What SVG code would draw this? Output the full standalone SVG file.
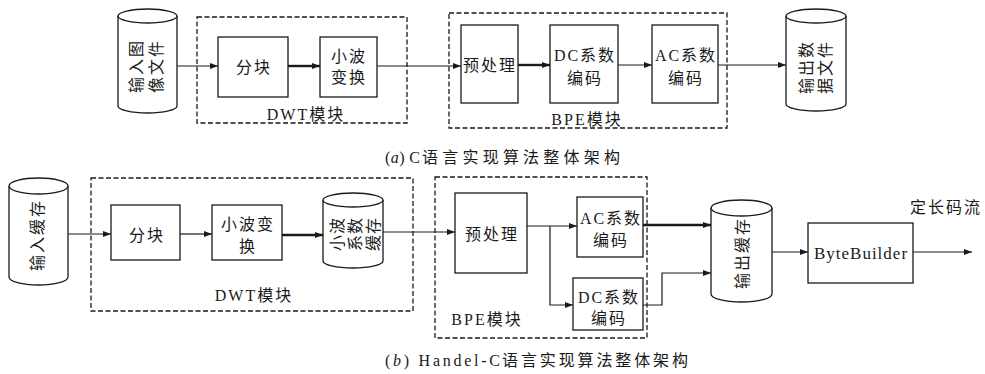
<svg xmlns="http://www.w3.org/2000/svg" width="985" height="374" viewBox="0 0 985 374">
<style>
  .bg { fill: #ffffff; }
  .box { fill: #ffffff; stroke: #1a1a1a; stroke-width: 1.3; }
  .cyl { fill: #ffffff; stroke: #1a1a1a; stroke-width: 1.3; }
  .dash { fill: none; stroke: #1a1a1a; stroke-width: 1.3; stroke-dasharray: 5 2.5; }
  .ln { fill: none; stroke: #1a1a1a; stroke-width: 1.2; marker-end: url(#arr); }
  .thick { fill: none; stroke: #1a1a1a; stroke-width: 2.4; marker-end: url(#arr); }
  .t { font-family: "Liberation Serif", "Noto Sans CJK SC", serif; font-size: 16px; fill: #1a1a1a; letter-spacing: 2px; text-anchor: middle; dominant-baseline: central; }
  .cap { font-family: "Liberation Serif", "Noto Sans CJK SC", serif; font-size: 16px; fill: #1a1a1a; }
</style>
<defs>
  <marker id="arr" markerUnits="userSpaceOnUse" markerWidth="8" markerHeight="6" refX="8" refY="3" orient="auto">
    <path d="M0,0 L8,3 L0,6 Z" fill="#1a1a1a"/>
  </marker>
</defs>
<rect class="bg" x="0" y="0" width="985" height="374"/>

<!-- (a) module frames -->
<g id="a-dwt-frame">
  <rect class="dash" x="197" y="17" width="210" height="106"/>
  <text class="t" x="306" y="114">DWT模块</text>
</g>
<g id="a-bpe-frame">
  <rect class="dash" x="449" y="13" width="278" height="115"/>
  <text class="t" x="587" y="119">BPE模块</text>
</g>

<!-- (b) module frames -->
<g id="b-dwt-frame">
  <rect class="dash" x="91" y="178" width="322" height="133"/>
  <text class="t" x="254" y="295">DWT模块</text>
</g>
<g id="b-bpe-frame">
  <rect class="dash" x="435" y="177" width="212" height="161"/>
  <text class="t" x="487" y="319">BPE模块</text>
</g>

<!-- connectors -->
<g id="connectors">
  <!-- (a) -->
  <line class="ln" x1="177" y1="66" x2="218" y2="66"/>
  <line class="thick" x1="288" y1="66" x2="320" y2="66"/>
  <line class="ln" x1="377" y1="66" x2="461" y2="66"/>
  <line class="thick" x1="518" y1="65" x2="550" y2="65"/>
  <line class="ln" x1="618" y1="65" x2="652" y2="65"/>
  <line class="ln" x1="718" y1="65" x2="786" y2="65"/>
  <!-- (b) -->
  <line class="ln" x1="68" y1="234" x2="111" y2="234"/>
  <line class="ln" x1="180" y1="234" x2="212" y2="234"/>
  <line class="thick" x1="282" y1="235" x2="323" y2="235"/>
  <line class="ln" x1="383" y1="232" x2="455" y2="232"/>
  <polyline class="ln" points="527,226 577,226"/>
  <polyline class="ln" points="550,226 550,305 573,305"/>
  <line class="thick" x1="643" y1="225" x2="711" y2="225"/>
  <polyline class="ln" points="643,305 662,305 662,273 711,273"/>
  <line class="ln" x1="772" y1="252" x2="808" y2="252"/>
  <line class="ln" x1="913" y1="252" x2="972" y2="252"/>
</g>

<!-- (a) nodes -->
<g id="a-input">
  <path class="cyl" d="M118,16 L118,106 A29.5,7 0 0 0 177,106 L177,16"/>
  <ellipse class="cyl" cx="147.5" cy="16" rx="29.5" ry="7"/>
  <text class="t" transform="translate(136,66) rotate(-90)" x="0" y="0">输入图</text>
  <text class="t" transform="translate(156,66) rotate(-90)" x="0" y="0">像文件</text>
</g>
<g id="a-fenkuai">
  <rect class="box" x="218" y="37" width="70" height="60"/>
  <text class="t" x="254" y="67">分块</text>
</g>
<g id="a-wavelet">
  <rect class="box" x="320" y="37" width="57" height="60"/>
  <text class="t" x="349" y="56">小波</text>
  <text class="t" x="349" y="77">变换</text>
</g>
<g id="a-pre">
  <rect class="box" x="461" y="25" width="57" height="78"/>
  <text class="t" x="490" y="65">预处理</text>
</g>
<g id="a-dc">
  <rect class="box" x="550" y="25" width="68" height="78"/>
  <text class="t" x="585" y="55">DC系数</text>
  <text class="t" x="585" y="78">编码</text>
</g>
<g id="a-ac">
  <rect class="box" x="652" y="25" width="66" height="78"/>
  <text class="t" x="686" y="55">AC系数</text>
  <text class="t" x="686" y="78">编码</text>
</g>
<g id="a-output">
  <path class="cyl" d="M786,16 L786,104 A30,7 0 0 0 846,104 L846,16"/>
  <ellipse class="cyl" cx="816" cy="16" rx="30" ry="7"/>
  <text class="t" transform="translate(806,67) rotate(-90)" x="0" y="0">输出数</text>
  <text class="t" transform="translate(825,67) rotate(-90)" x="0" y="0">据文件</text>
</g>

<!-- (b) nodes -->
<g id="b-input">
  <path class="cyl" d="M9,186 L9,277 A29.5,8 0 0 0 68,277 L68,186"/>
  <ellipse class="cyl" cx="38.5" cy="186" rx="29.5" ry="8"/>
  <text class="t" transform="translate(37,235) rotate(-90)" x="0" y="0">输入缓存</text>
</g>
<g id="b-fenkuai">
  <rect class="box" x="111" y="205" width="69" height="55"/>
  <text class="t" x="147" y="235">分块</text>
</g>
<g id="b-wavelet">
  <rect class="box" x="212" y="205" width="70" height="55"/>
  <text class="t" x="248" y="224">小波变</text>
  <text class="t" x="248" y="246">换</text>
</g>
<g id="b-coefbuf">
  <path class="cyl" d="M323,200 L323,261 A30,7 0 0 0 383,261 L383,200"/>
  <ellipse class="cyl" cx="353" cy="200" rx="30" ry="7"/>
  <text class="t" style="letter-spacing:1px" transform="translate(337,234) rotate(-90)" x="0" y="0">小波</text>
  <text class="t" style="letter-spacing:1px" transform="translate(355,234) rotate(-90)" x="0" y="0">系数</text>
  <text class="t" style="letter-spacing:1px" transform="translate(373,234) rotate(-90)" x="0" y="0">缓存</text>
</g>
<g id="b-pre">
  <rect class="box" x="455" y="193" width="72" height="80"/>
  <text class="t" x="492" y="234">预处理</text>
</g>
<g id="b-ac">
  <rect class="box" x="577" y="197" width="66" height="60"/>
  <text class="t" x="611" y="218">AC系数</text>
  <text class="t" x="611" y="240">编码</text>
</g>
<g id="b-dc">
  <rect class="box" x="573" y="278" width="70" height="52"/>
  <text class="t" x="609" y="297">DC系数</text>
  <text class="t" x="609" y="318">编码</text>
</g>
<g id="b-output">
  <path class="cyl" d="M711,208 L711,294 A30.5,8 0 0 0 772,294 L772,208"/>
  <ellipse class="cyl" cx="741.5" cy="208" rx="30.5" ry="8"/>
  <text class="t" transform="translate(742,253) rotate(-90)" x="0" y="0">输出缓存</text>
</g>
<g id="b-bytebuilder">
  <rect class="box" x="808" y="223" width="105" height="60"/>
  <text class="t" style="font-size:17px;letter-spacing:1px" x="861" y="253">ByteBuilder</text>
</g>
<g id="b-stream-label">
  <text class="t" x="946" y="207">定长码流</text>
</g>

<!-- captions -->
<g id="captions">
  <text class="cap" x="385" y="163" textLength="35" lengthAdjust="spacing">(<tspan font-style="italic">a</tspan>) C</text>
  <text class="cap" x="422" y="163" textLength="198" lengthAdjust="spacing">语言实现算法整体架构</text>
  <text class="cap" x="385" y="366" textLength="115" lengthAdjust="spacing">(<tspan font-style="italic">b</tspan>) Handel-C</text>
  <text class="cap" x="502" y="366" textLength="186" lengthAdjust="spacing">语言实现算法整体架构</text>
</g>
</svg>
